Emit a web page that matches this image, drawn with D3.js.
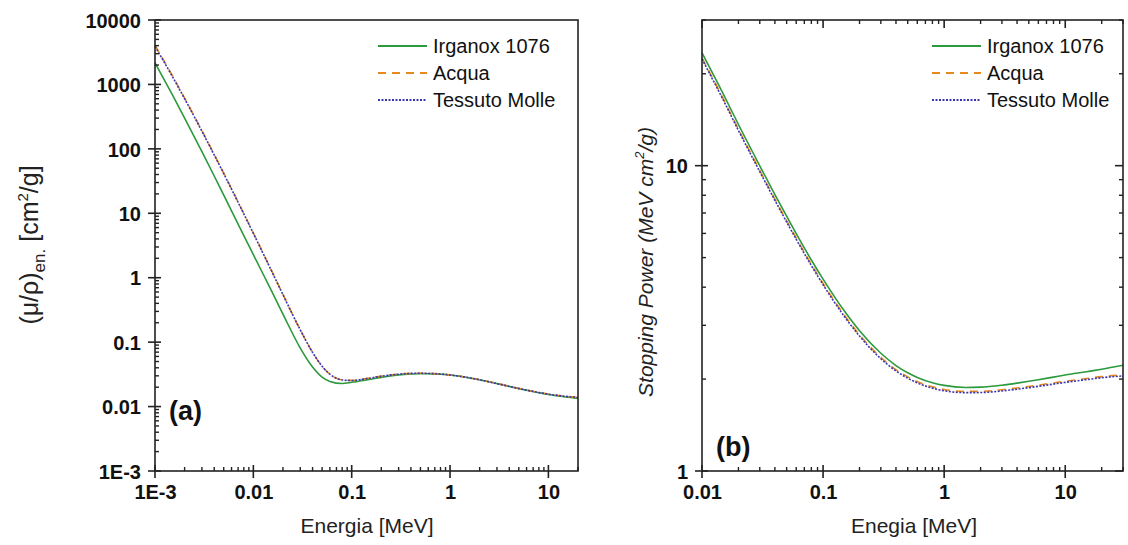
<!DOCTYPE html>
<html><head><meta charset="utf-8">
<script src="https://cdn.jsdelivr.net/npm/d3@7"></script>
<style>
body{margin:0;background:#fff;}
svg{font-family:"Liberation Sans",Arial,sans-serif;}
</style></head>
<body><svg id="c" width="1128" height="545"></svg>
<script>
// ---------- Data ----------
const seriesNames = ["Irganox 1076", "Acqua", "Tessuto Molle"];

// Panel (a): mass energy-absorption coefficient (cm2/g) vs energy (MeV)
const energyA = [0.001,0.0015,0.002,0.003,0.004,0.005,0.006,0.008,0.01,0.015,0.02,0.03,0.04,0.05,0.06,0.08,0.1,0.15,0.2,0.3,0.4,0.5,0.6,0.8,1,1.5,2,3,4,5,6,8,10,15,20];
const irganoxA = [2161,693,301,90.4,37.9,19.1,10.9,4.51,2.28,0.664,0.272,0.081,0.0411,0.0287,0.0246,0.0228,0.0238,0.0264,0.0284,0.0310,0.0320,0.0324,0.0324,0.0318,0.0309,0.0283,0.0260,0.0227,0.0205,0.0190,0.0179,0.0164,0.0154,0.0141,0.0134];
const acquaA = [4065,1372,615.2,191.7,81.91,41.88,24.05,9.915,4.944,1.374,0.5503,0.1557,0.06947,0.04223,0.03190,0.02597,0.02546,0.02764,0.02967,0.03192,0.03279,0.03299,0.03284,0.03206,0.03103,0.02833,0.02608,0.02281,0.02066,0.01915,0.01806,0.01658,0.01566,0.01441,0.01382];
const tessutoA = [3900,1330,600,188,80.5,41.2,23.7,9.78,4.88,1.36,0.546,0.155,0.0694,0.0422,0.0318,0.0259,0.0254,0.0275,0.0295,0.0318,0.0327,0.0329,0.0327,0.0320,0.0309,0.0282,0.0260,0.0227,0.0206,0.0191,0.0180,0.0165,0.0156,0.0144,0.0138];

// Panel (b): stopping power (MeV cm2/g) vs energy (MeV)
const energyB = [0.01,0.015,0.02,0.03,0.04,0.05,0.06,0.08,0.1,0.15,0.2,0.3,0.4,0.5,0.6,0.8,1,1.5,2,3,4,5,6,8,10,15,20,30];
const irganoxB = [23.4,17.15,13.64,9.99,8.04,6.83,5.99,4.91,4.25,3.34,2.88,2.43,2.215,2.097,2.024,1.945,1.907,1.878,1.882,1.910,1.940,1.967,1.990,2.030,2.062,2.115,2.155,2.22];
const acquaB = [22.56,16.55,13.17,9.653,7.777,6.603,5.797,4.757,4.115,3.238,2.793,2.355,2.148,2.034,1.963,1.886,1.849,1.823,1.824,1.846,1.870,1.892,1.911,1.943,1.968,2.009,2.038,2.065];
const tessutoB = [22.35,16.39,13.04,9.56,7.70,6.54,5.74,4.71,4.075,3.206,2.766,2.332,2.127,2.014,1.944,1.868,1.831,1.806,1.807,1.829,1.853,1.875,1.894,1.926,1.951,1.992,2.021,2.048];

// Tick labels
const xTicksA = [0.001,0.01,0.1,1,10];
const xTickLabelsA = ["1E-3","0.01","0.1","1","10"];
const yTicksA = [0.001,0.01,0.1,1,10,100,1000,10000];
const yTickLabelsA = ["1E-3","0.01","0.1","1","10","100","1000","10000"];
const xTicksB = [0.01,0.1,1,10];
const xTickLabelsB = ["0.01","0.1","1","10"];
const yTicksB = [1,10];
const yTickLabelsB = ["1","10"];

// ---------- Style ----------
const colors = ["#2a9a3c","#e8891c","#3a36b0"];
const dashes = [null,"8,6","2,1.5"];
const axisColor = "#222";

const svg = d3.select("#c");

function minorTicks(domain){
  const out=[];
  const lo=Math.floor(Math.log10(domain[0])), hi=Math.ceil(Math.log10(domain[1]));
  for(let e=lo;e<=hi;e++){
    for(let m=2;m<=9;m++){
      const v=m*Math.pow(10,e);
      if(v>=domain[0]*0.999 && v<=domain[1]*1.001) out.push(v);
    }
  }
  return out;
}

function panel(cfg){
  const x=d3.scaleLog().domain(cfg.xDomain).range([cfg.left,cfg.right]);
  const y=d3.scaleLog().domain(cfg.yDomain).range([cfg.bottom,cfg.top]);
  const g=svg.append("g");

  // curves
  const line=d3.line().x(d=>x(d[0])).y(d=>y(d[1])).curve(d3.curveMonotoneX);
  cfg.series.forEach((s,i)=>{
    const pts=cfg.energy.map((e,k)=>[e,s[k]]);
    g.append("path").attr("d",line(pts)).attr("fill","none")
      .attr("stroke",colors[i]).attr("stroke-width",1.6)
      .attr("stroke-dasharray",dashes[i]);
  });

  // frame
  g.append("rect").attr("x",cfg.left).attr("y",cfg.top)
    .attr("width",cfg.right-cfg.left).attr("height",cfg.bottom-cfg.top)
    .attr("fill","none").attr("stroke",axisColor).attr("stroke-width",1.6);

  const majOut=7, majIn=6, minIn=4;
  // bottom axis
  const xb=d3.axisBottom(x).tickValues(cfg.xTicks).tickSize(0).tickFormat((d,i)=>cfg.xTickLabels[i]);
  const gx=g.append("g").attr("transform",`translate(0,${cfg.bottom})`).call(xb);
  gx.select(".domain").remove();
  gx.selectAll("text").attr("dy",0).attr("y",28).attr("font-size",20).attr("font-weight","bold").attr("fill","#111")
    .attr("font-family","Liberation Sans, Arial, sans-serif");
  cfg.xTicks.forEach(v=>{
    g.append("line").attr("x1",x(v)).attr("x2",x(v)).attr("y1",cfg.bottom-majIn).attr("y2",cfg.bottom+majOut)
      .attr("stroke",axisColor).attr("stroke-width",1.6);
    if(cfg.mirror) g.append("line").attr("x1",x(v)).attr("x2",x(v)).attr("y1",cfg.top).attr("y2",cfg.top+majIn+2)
      .attr("stroke",axisColor).attr("stroke-width",1.6);
  });
  minorTicks(cfg.xDomain).forEach(v=>{
    g.append("line").attr("x1",x(v)).attr("x2",x(v)).attr("y1",cfg.bottom-minIn).attr("y2",cfg.bottom)
      .attr("stroke",axisColor).attr("stroke-width",1.4);
    if(cfg.mirror) g.append("line").attr("x1",x(v)).attr("x2",x(v)).attr("y1",cfg.top).attr("y2",cfg.top+minIn)
      .attr("stroke",axisColor).attr("stroke-width",1.4);
  });

  // left axis
  const yl=d3.axisLeft(y).tickValues(cfg.yTicks).tickSize(0).tickFormat((d,i)=>cfg.yTickLabels[i]);
  const gy=g.append("g").attr("transform",`translate(${cfg.left},0)`).call(yl);
  gy.select(".domain").remove();
  gy.selectAll("text").attr("x",-14).attr("dy","0.36em").attr("font-size",20).attr("font-weight","bold").attr("fill","#111")
    .attr("font-family","Liberation Sans, Arial, sans-serif");
  cfg.yTicks.forEach(v=>{
    g.append("line").attr("y1",y(v)).attr("y2",y(v)).attr("x1",cfg.left-majOut).attr("x2",cfg.left+majIn)
      .attr("stroke",axisColor).attr("stroke-width",1.6);
    if(cfg.mirror) g.append("line").attr("y1",y(v)).attr("y2",y(v)).attr("x1",cfg.right-majIn-2).attr("x2",cfg.right)
      .attr("stroke",axisColor).attr("stroke-width",1.6);
  });
  minorTicks(cfg.yDomain).forEach(v=>{
    g.append("line").attr("y1",y(v)).attr("y2",y(v)).attr("x1",cfg.left).attr("x2",cfg.left+minIn)
      .attr("stroke",axisColor).attr("stroke-width",1.4);
    if(cfg.mirror) g.append("line").attr("y1",y(v)).attr("y2",y(v)).attr("x1",cfg.right-minIn).attr("x2",cfg.right)
      .attr("stroke",axisColor).attr("stroke-width",1.4);
  });

  // x title
  g.append("text").attr("x",cfg.xTitleX).attr("y",533).attr("text-anchor","middle")
    .attr("font-size",21).attr("fill","#222").text(cfg.xTitle);

  // panel tag
  g.append("text").attr("x",cfg.left+14).attr("y",cfg.tagY).attr("font-size",27).attr("font-weight","bold")
    .attr("fill","#111").text(cfg.tag);

  // legend
  seriesNames.forEach((n,i)=>{
    const ly=cfg.legY+i*27;
    g.append("line").attr("x1",cfg.legX).attr("x2",cfg.legX+49).attr("y1",ly).attr("y2",ly)
      .attr("stroke",colors[i]).attr("stroke-width",1.8).attr("stroke-dasharray",dashes[i]);
    g.append("text").attr("x",cfg.legX+55).attr("y",ly).attr("dy","0.35em").attr("font-size",20)
      .attr("fill","#111").text(n);
  });
  return g;
}

const gA=panel({
  xDomain:[0.001,20], yDomain:[0.001,10000],
  left:155,right:578,top:20,bottom:471,
  energy:energyA, series:[irganoxA,acquaA,tessutoA],
  xTicks:xTicksA,xTickLabels:xTickLabelsA,yTicks:yTicksA,yTickLabels:yTickLabelsA,
  xTitle:"Energia [MeV]", xTitleX:367, tag:"(a)", tagY:420, legX:378, legY:46, mirror:false
});
const gB=panel({
  xDomain:[0.01,30], yDomain:[1,30],
  left:702,right:1123,top:20,bottom:471,
  energy:energyB, series:[irganoxB,acquaB,tessutoB],
  xTicks:xTicksB,xTickLabels:xTickLabelsB,yTicks:yTicksB,yTickLabels:yTickLabelsB,
  xTitle:"Enegia [MeV]", xTitleX:914, tag:"(b)", tagY:456, legX:932, legY:46, mirror:true
});

// y titles
const ta=svg.append("text").attr("transform","translate(38,245) rotate(-90)").attr("text-anchor","middle")
  .attr("font-size",25).attr("fill","#222");
ta.append("tspan").text("(\u03bc/\u03c1)");
ta.append("tspan").attr("font-size",17).attr("dy",7).text("en.");
ta.append("tspan").attr("dy",-7).text(" [cm");
ta.append("tspan").attr("font-size",15).attr("dy",-10).text("2");
ta.append("tspan").attr("dy",10).text("/g]");

const tb=svg.append("text").attr("transform","translate(653,262) rotate(-90)").attr("text-anchor","middle")
  .attr("font-size",21).attr("font-style","italic").attr("fill","#222");
tb.append("tspan").text("Stopping Power (MeV cm");
tb.append("tspan").attr("font-size",13).attr("dy",-9).text("2");
tb.append("tspan").attr("dy",9).text("/g)");
</script></body></html>
